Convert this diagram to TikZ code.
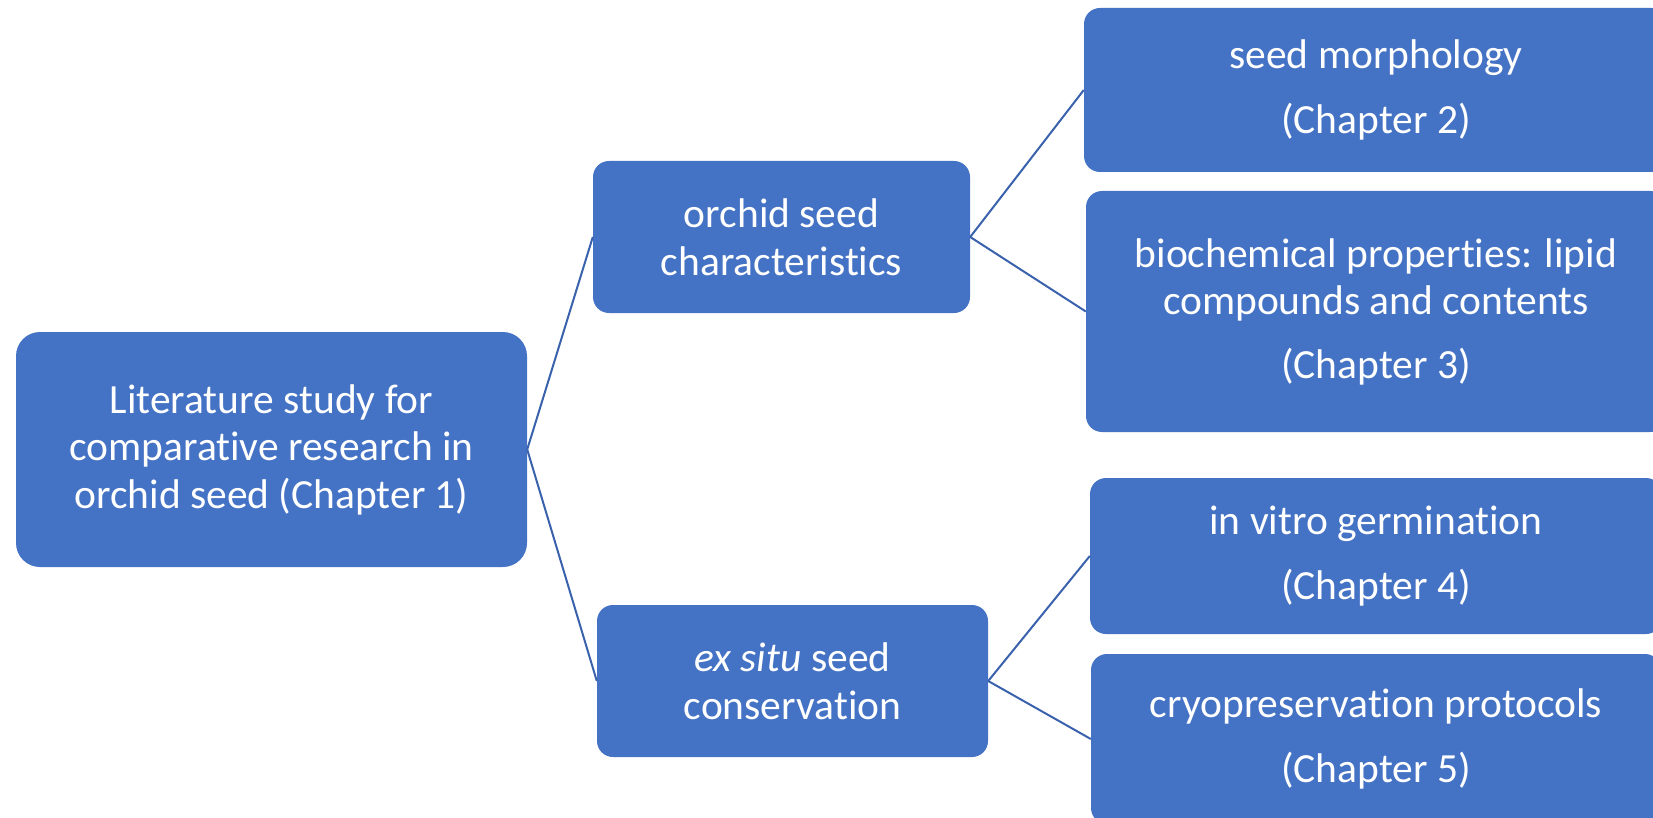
\documentclass[tikz,border=0pt]{standalone}
\usepackage{fontspec}
\setmainfont{Carlito}[RawFeature=-liga]
\definecolor{boxblue}{HTML}{4472C4}
\definecolor{lineblue}{HTML}{3A62AC}
\begin{document}
\begin{tikzpicture}[x=1pt,y=-1pt,
  box/.style={fill=boxblue, text=white, rounded corners=16pt, inner sep=0pt,
    align=center, font=\fontsize{41.5}{47.5}\selectfont},
  link/.style={draw=lineblue, line width=2pt}]
\useasboundingbox (0,0) rectangle (1653,818);
\begin{scope}
\clip (0,0) rectangle (1653,818);
\node[box, rounded corners=24pt, minimum width=511pt, minimum height=235pt] (root) at (271.5,449.5)
  {Literature study for\\comparative research in\\orchid seed (Chapter 1)};
\node[box, minimum width=377pt, minimum height=152pt] (orchid) at (781.5,237)
  {orchid seed\\characteristics};
\node[box, minimum width=391pt, minimum height=152pt] (exsitu) at (792.5,681)
  {\textit{ex situ} seed\\conservation};
\node[box, minimum width=584pt, minimum height=164pt] (morph) at (1376,90)
  {seed morphology\\[17pt](Chapter 2)};
\node[box, minimum width=580pt, minimum height=241pt] (bio) at (1376,311.5)
  {biochemical properties: lipid\\compounds and contents\\[16pt](Chapter 3)};
\node[box, minimum width=572pt, minimum height=156pt] (vitro) at (1376,556)
  {in vitro germination\\[17pt](Chapter 4)};
\node[box, minimum width=570pt, minimum height=170pt] (cryo) at (1376,739)
  {cryopreservation protocols\\[17pt](Chapter 5)};
\draw[link] (root.east) -- (orchid.west);
\draw[link] (root.east) -- (exsitu.west);
\draw[link] (orchid.east) -- (morph.west);
\draw[link] (orchid.east) -- (bio.west);
\draw[link] (exsitu.east) -- (vitro.west);
\draw[link] (exsitu.east) -- (cryo.west);
\end{scope}
\end{tikzpicture}
\end{document}
